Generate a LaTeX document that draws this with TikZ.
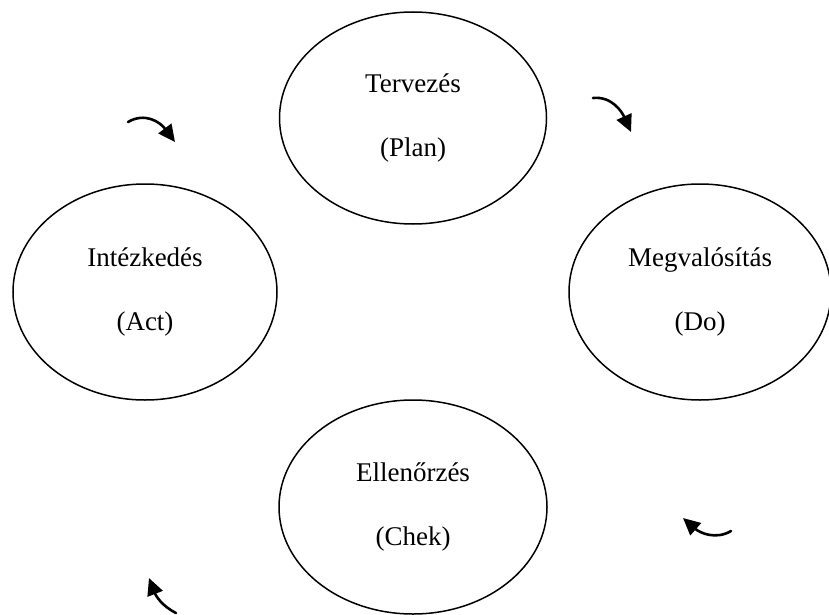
\documentclass[tikz,border=0pt]{standalone}
\usepackage{fontspec}
\setmainfont{Liberation Serif}
\usetikzlibrary{shapes.geometric,arrows.meta}
\tikzset{
  phase/.style={draw=black, line width=1.5pt, ellipse, inner sep=0pt,
    align=center, font=\fontsize{27}{32}\selectfont},
  cyc/.style={line width=2.6pt, line cap=round, -{Triangle[length=17pt,width=16pt]}}
}
\begin{document}
\begin{tikzpicture}[x=1pt,y=-1pt]
\useasboundingbox (0,0) rectangle (829,615);
\node[phase, minimum width=267pt, minimum height=212pt] (plan) at (413,118) {Tervezés\\[32pt](Plan)};
\node[phase, minimum width=264pt, minimum height=216pt] (act) at (145,292) {Intézkedés\\[32pt](Act)};
\node[phase, minimum width=262pt, minimum height=216pt] (do) at (700,292) {Megvalósítás\\[32pt](Do)};
\node[phase, minimum width=268pt, minimum height=214pt] (check) at (413,507) {Ellenőrzés\\[32pt](Chek)};

\coordinate (a1s) at (128,122);
\coordinate (a1e) at (175,142);
\coordinate (a2s) at (593,98);
\coordinate (a2e) at (631,132);
\coordinate (a3s) at (731,531);
\coordinate (a3e) at (683,518);
\coordinate (a4s) at (176,613);
\coordinate (a4e) at (149,578);

\draw[cyc] (a1s) .. controls (145,112) and (160,122) .. (a1e);
\draw[cyc] (a2s) .. controls (612,96) and (622,112) .. (a2e);
\draw[cyc] (a3s) .. controls (716,540) and (700,533) .. (a3e);
\draw[cyc] (a4s) .. controls (162,606) and (156,596) .. (a4e);
\end{tikzpicture}
\end{document}
